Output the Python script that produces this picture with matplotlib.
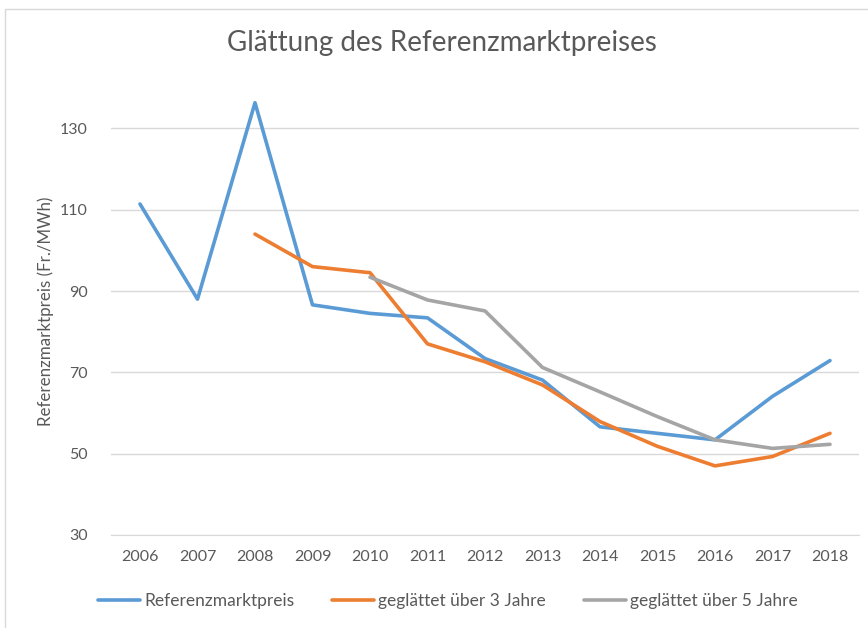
import numpy as np
import matplotlib.pyplot as plt
from matplotlib.patches import Rectangle

plt.rcParams['font.family'] = ['Lato', 'DejaVu Sans']

jahre = [str(j) for j in range(2006, 2019)]
referenzpreis = [111.4, 88.0, 136.3, 86.6, 84.5, 83.4, 73.4, 68.1, 56.6, 55.0, 53.4, 64.1, 72.9]
glatt_3 = [None, None, 104.0, 96.0, 94.5, 77.0, 72.6, 66.9, 57.9, 51.8, 47.0, 49.3, 55.0]
glatt_5 = [None, None, None, None, 93.4, 87.8, 85.1, 71.2, 65.2, 59.1, 53.4, 51.3, 52.3]

grau = '#595959'

def to_arr(vals):
    return np.array([np.nan if v is None else v for v in vals], dtype=float)

fig = plt.figure(figsize=(8.68, 6.28), dpi=100)
ax = fig.add_axes([111.25 / 868, 1 - 535 / 628, (858.75 - 111.25) / 868, (535 - 87.7) / 628])

# chart border like in Excel
fig.patches.append(Rectangle((5 / 868, -0.1), 1.2, 1 - 9.3 / 628 + 0.1,
                             transform=fig.transFigure, fill=False,
                             edgecolor='#D9D9D9', linewidth=1))

x = np.arange(len(jahre))
ax.plot(x, to_arr(referenzpreis), color='#5B9BD5', lw=2.6, label='Referenzmarktpreis',
        solid_joinstyle='round', solid_capstyle='round')
ax.plot(x, to_arr(glatt_3), color='#ED7D31', lw=2.6, label='geglättet über 3 Jahre',
        solid_joinstyle='round', solid_capstyle='round')
ax.plot(x, to_arr(glatt_5), color='#A5A5A5', lw=2.6, label='geglättet über 5 Jahre',
        solid_joinstyle='round', solid_capstyle='round')

ax.set_xlim(-0.5, len(jahre) - 0.5)
ax.set_ylim(30, 140)
ax.set_yticks(np.arange(30, 131, 20))
ax.set_xticks(x)
ax.set_xticklabels(jahre)
ax.grid(axis='y', color='#D9D9D9', lw=1)
ax.set_axisbelow(True)
for s in ['top', 'right', 'left']:
    ax.spines[s].set_visible(False)
ax.spines['bottom'].set_color('#D9D9D9')
ax.tick_params(axis='both', length=0, colors=grau, labelsize=11.5)
ax.tick_params(axis='y', pad=17)
ax.tick_params(axis='x', pad=11)

ax.set_ylabel('Referenzmarktpreis (Fr./MWh)', color=grau, fontsize=12.2, labelpad=4)

fig.text(442 / 868, 1 - 43 / 628, 'Glättung des Referenzmarktpreises', ha='center', va='center',
         color=grau, fontsize=20)

fig.legend(loc='center', bbox_to_anchor=(448 / 868, 1 - 601 / 628), ncol=3, frameon=False,
           fontsize=12.5, handlelength=2.4, handletextpad=0.25, columnspacing=2.2,
           labelcolor=grau)

fig.savefig('out.png', dpi=100)
